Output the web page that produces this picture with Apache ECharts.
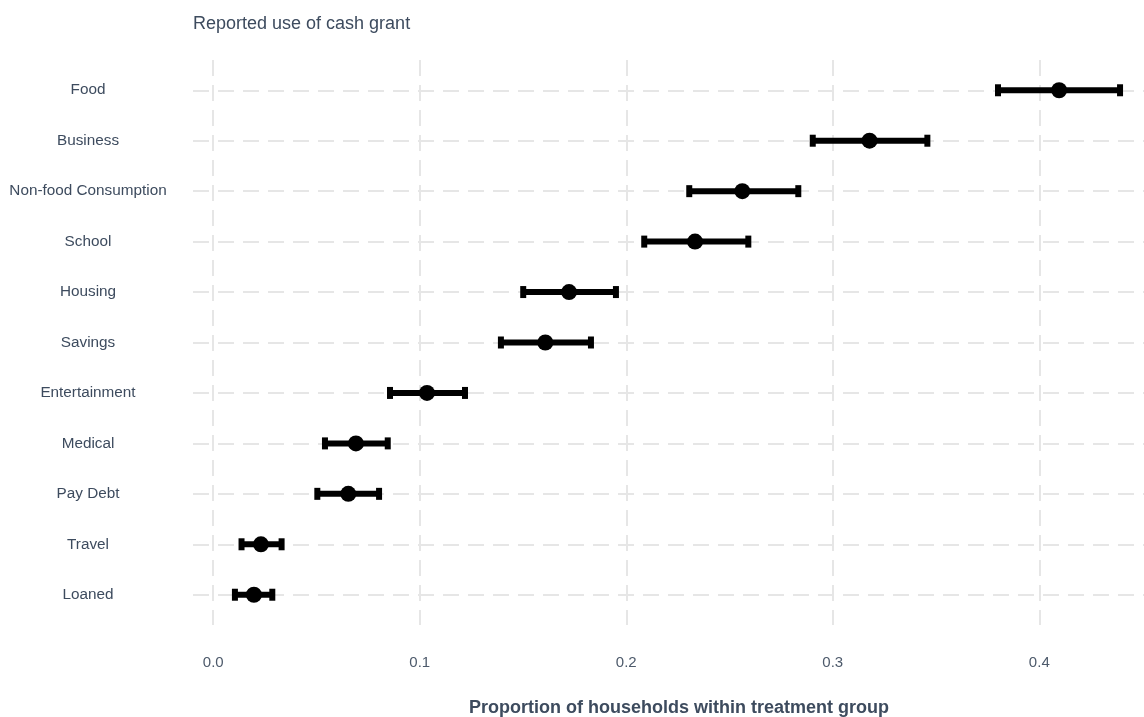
<!DOCTYPE html>
<html>
<head>
<meta charset="utf-8">
<script src="https://cdn.jsdelivr.net/npm/echarts@6/dist/echarts.min.js"></script>
<style>
html,body{margin:0;padding:0;background:#fff;}
#chart{width:1144px;height:717px;}
</style>
</head>
<body>
<div id="chart"></div>
<script>
const categories = ["Food","Business","Non-food Consumption","School","Housing","Savings","Entertainment","Medical","Pay Debt","Travel","Loaned"];
const estimates = [0.4096,0.3178,0.2562,0.2333,0.1723,0.1608,0.1035,0.0691,0.0654,0.0231,0.0197];
const lower = [0.3800,0.2903,0.2305,0.2087,0.1501,0.1393,0.0856,0.0541,0.0504,0.0137,0.0105];
const upper = [0.4391,0.3458,0.2833,0.2591,0.1950,0.1829,0.1219,0.0845,0.0803,0.0331,0.0286];
const xTicks = [0,0.1,0.2,0.3,0.4];

const textColor = '#3d4b5e';
const gridColor = '#e6e6e6';
const catIdx = categories.map((c,i)=>i);

const chart = echarts.init(document.getElementById('chart'), null, {renderer:'canvas'});
chart.setOption({
  backgroundColor:'#ffffff',
  animation:false,
  title:[
    {text:'Reported use of cash grant', left:193, top:15, padding:0,
     textStyle:{fontFamily:'Liberation Sans', fontSize:18, fontWeight:'normal', color:textColor}},
    {text:'Proportion of households within treatment group', left:679, top:699, padding:0, textAlign:'center',
     textStyle:{fontFamily:'Liberation Sans', fontSize:18, fontWeight:'bold', color:textColor}}
  ],
  grid:{left:193, right:0, top:60, bottom:92, containLabel:false},
  xAxis:{
    type:'value', min:-0.0098, max:0.4507,
    axisLine:{show:false},
    axisTick:{show:false, customValues:xTicks},
    axisLabel:{customValues:xTicks, formatter:v=>v.toFixed(1), fontFamily:'Liberation Sans', fontSize:15, color:'#4d5a6b', margin:30},
    splitLine:{show:true, lineStyle:{color:gridColor, width:2, type:[16,9]}},
  },
  yAxis:{
    type:'value', inverse:true, min:-0.6, max:10.6,
    axisLine:{show:false},
    axisTick:{show:false, customValues:catIdx},
    axisLabel:{customValues:catIdx, formatter:v=>categories[Math.round(v)], align:'center', margin:105,
      fontFamily:'Liberation Sans', fontSize:15.3, color:textColor},
    splitLine:{show:true, lineStyle:{color:gridColor, width:2, type:[16,9]}}
  },
  series:[
    {
      type:'custom',
      data: categories.map((c,i)=>[lower[i], upper[i], i]),
      renderItem:function(params, api){
        const y = api.value(2);
        const p1 = api.coord([api.value(0), y]);
        const p2 = api.coord([api.value(1), y]);
        const capW = 6, capH = 12;
        return {type:'group', children:[
          {type:'line', shape:{x1:p1[0], y1:p1[1], x2:p2[0], y2:p2[1]}, style:{stroke:'#000', lineWidth:6}},
          {type:'rect', shape:{x:p1[0]-capW/2, y:p1[1]-capH/2, width:capW, height:capH}, style:{fill:'#000'}},
          {type:'rect', shape:{x:p2[0]-capW/2, y:p2[1]-capH/2, width:capW, height:capH}, style:{fill:'#000'}}
        ]};
      },
      z:2
    },
    {
      type:'scatter',
      data: categories.map((c,i)=>[estimates[i], i]),
      symbol:'circle', symbolSize:16,
      itemStyle:{color:'#000', opacity:1},
      z:3
    }
  ]
});
</script>
</body>
</html>
